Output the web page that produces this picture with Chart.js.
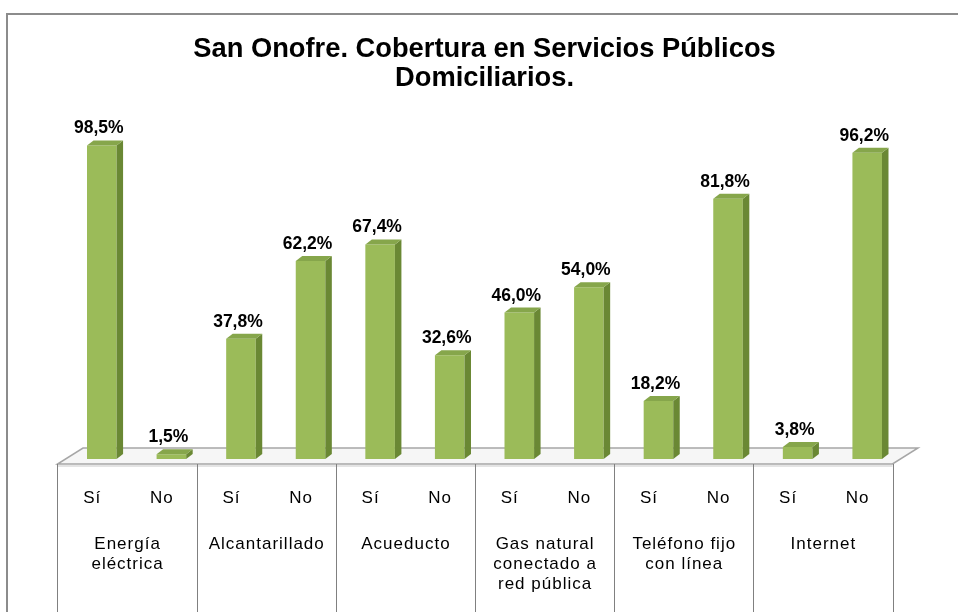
<!DOCTYPE html>
<html>
<head>
<meta charset="utf-8">
<script src="https://cdn.jsdelivr.net/npm/chart.js@4.4.1/dist/chart.umd.min.js"></script>
<style>
  html, body { margin: 0; padding: 0; background: #fff; }
  #wrap { width: 958px; height: 612px; }
</style>
</head>
<body>
<div id="wrap"><canvas id="chart" width="958" height="612"></canvas></div>
<script>
// datos
const titulo = ["San Onofre. Cobertura en Servicios Públicos", "Domiciliarios."];
const grupos = [
  ["Energía", "eléctrica"],
  ["Alcantarillado"],
  ["Acueducto"],
  ["Gas natural", "conectado a", "red pública"],
  ["Teléfono fijo", "con línea"],
  ["Internet"]
];
const respuestas = ["Sí", "No"];
const valores = [98.5, 1.5, 37.8, 62.2, 67.4, 32.6, 46.0, 54.0, 18.2, 81.8, 3.8, 96.2];

const etiquetas = [];
grupos.forEach(g => respuestas.forEach(r => etiquetas.push(g.join(" ") + " - " + r)));

const FUENTE = "'Liberation Sans', Arial, sans-serif";
const VERDE = "#9bbb59", LADO = "#6a8834", TAPA = "#86a64b";
// desplazamiento de la perspectiva
const FRENTE = { dx: -9.5, dy: 5 }, FONDO = { dx: 16, dy: -11 };
const PROF = { dx: 6.5, dy: -5 };

function fmt(v) { return v.toFixed(1).replace(".", ",") + "%"; }

// marco + piso
const fondo = {
  id: "fondo",
  beforeDraw(chart) {
    const ctx = chart.ctx;
    ctx.save();
    ctx.fillStyle = "#fff";
    ctx.fillRect(0, 0, chart.width, chart.height);
    ctx.strokeStyle = "#8c8c8c";
    ctx.lineWidth = 2;
    ctx.strokeRect(7, 14, chart.width + 20, chart.height + 20);
    ctx.restore();
  },
  beforeDatasetsDraw(chart) {
    const ctx = chart.ctx, a = chart.chartArea;
    const base = chart.scales.y.getPixelForValue(0);
    const fl = a.left + FRENTE.dx, fr = a.right + FRENTE.dx, fy = base + FRENTE.dy;
    const bl = a.left + FONDO.dx, br = a.right + FONDO.dx, by = base + FONDO.dy;
    ctx.save();
    ctx.beginPath();
    ctx.moveTo(fl, fy); ctx.lineTo(fr, fy); ctx.lineTo(br, by); ctx.lineTo(bl, by);
    ctx.closePath();
    ctx.fillStyle = "#f6f6f6";
    ctx.fill();
    ctx.strokeStyle = "#a6a6a6";
    ctx.lineWidth = 1.5;
    ctx.stroke();
    ctx.fillStyle = "#e4e4e4";
    ctx.fillRect(fl, fy + 1, fr - fl, 2);
    ctx.restore();
  }
};

// caras 3D y etiquetas
const barras3d = {
  id: "barras3d",
  afterDatasetsDraw(chart) {
    const ctx = chart.ctx;
    const meta = chart.getDatasetMeta(0);
    ctx.save();
    meta.data.forEach((bar, i) => {
      const w = bar.width, l = bar.x - w / 2, r = bar.x + w / 2;
      const t = bar.y, b = bar.base;
      // lado
      ctx.fillStyle = LADO;
      ctx.beginPath();
      ctx.moveTo(r, t); ctx.lineTo(r + PROF.dx, t + PROF.dy);
      ctx.lineTo(r + PROF.dx, b + PROF.dy); ctx.lineTo(r, b);
      ctx.closePath(); ctx.fill();
      // tapa
      ctx.fillStyle = TAPA;
      ctx.beginPath();
      ctx.moveTo(l, t); ctx.lineTo(l + PROF.dx, t + PROF.dy);
      ctx.lineTo(r + PROF.dx, t + PROF.dy); ctx.lineTo(r, t);
      ctx.closePath(); ctx.fill();
      // etiqueta
      ctx.fillStyle = "#000";
      ctx.font = "bold 17.5px " + FUENTE;
      ctx.textAlign = "center";
      ctx.textBaseline = "alphabetic";
      ctx.fillText(fmt(valores[i]), bar.x - 3, t - 12);
    });
    ctx.restore();
  }
};

// eje x en forma de tabla
const ejeTabla = {
  id: "ejeTabla",
  afterDraw(chart) {
    const ctx = chart.ctx, x = chart.scales.x;
    const base = chart.scales.y.getPixelForValue(0);
    const top = base + FRENTE.dy;
    const n = respuestas.length;
    ctx.save();
    ctx.strokeStyle = "#808080";
    ctx.lineWidth = 1;
    ctx.fillStyle = "#000";
    ctx.textAlign = "center";
    ctx.textBaseline = "alphabetic";
    const slot = x.getPixelForValue(1) - x.getPixelForValue(0);
    for (let g = 0; g <= grupos.length; g++) {
      const xp = Math.round(x.getPixelForValue(g * n) - slot / 2 + FRENTE.dx) + 0.5;
      ctx.beginPath(); ctx.moveTo(xp, top); ctx.lineTo(xp, chart.height); ctx.stroke();
    }
    ctx.font = "17px " + FUENTE;
    ctx.letterSpacing = "1px";
    grupos.forEach((g, gi) => {
      respuestas.forEach((r, ri) => {
        ctx.fillText(r, x.getPixelForValue(gi * n + ri) + FRENTE.dx, top + 39);
      });
      const cx = (x.getPixelForValue(gi * n) + x.getPixelForValue(gi * n + n - 1)) / 2 + FRENTE.dx;
      g.forEach((line, li) => ctx.fillText(line, cx + 0.5, top + 85 + li * 20));
    });
    ctx.restore();
  }
};

new Chart(document.getElementById("chart"), {
  type: "bar",
  data: {
    labels: etiquetas,
    datasets: [{
      data: valores,
      backgroundColor: VERDE,
      borderWidth: 0,
      barPercentage: 0.425,
      categoryPercentage: 1
    }]
  },
  options: {
    responsive: false,
    animation: false,
    layout: { padding: { top: 14, left: 67, right: 56, bottom: 153 } },
    scales: {
      x: { display: false },
      y: { display: false, min: 0, max: 100 }
    },
    plugins: {
      legend: { display: false },
      tooltip: { enabled: false },
      title: {
        display: true,
        text: titulo,
        color: "#000",
        font: { family: FUENTE, size: 27.3, weight: "bold", lineHeight: 1.08 },
        padding: { top: 20.25, bottom: 47.5 }
      }
    }
  },
  plugins: [fondo, barras3d, ejeTabla]
});
</script>
</body>
</html>
